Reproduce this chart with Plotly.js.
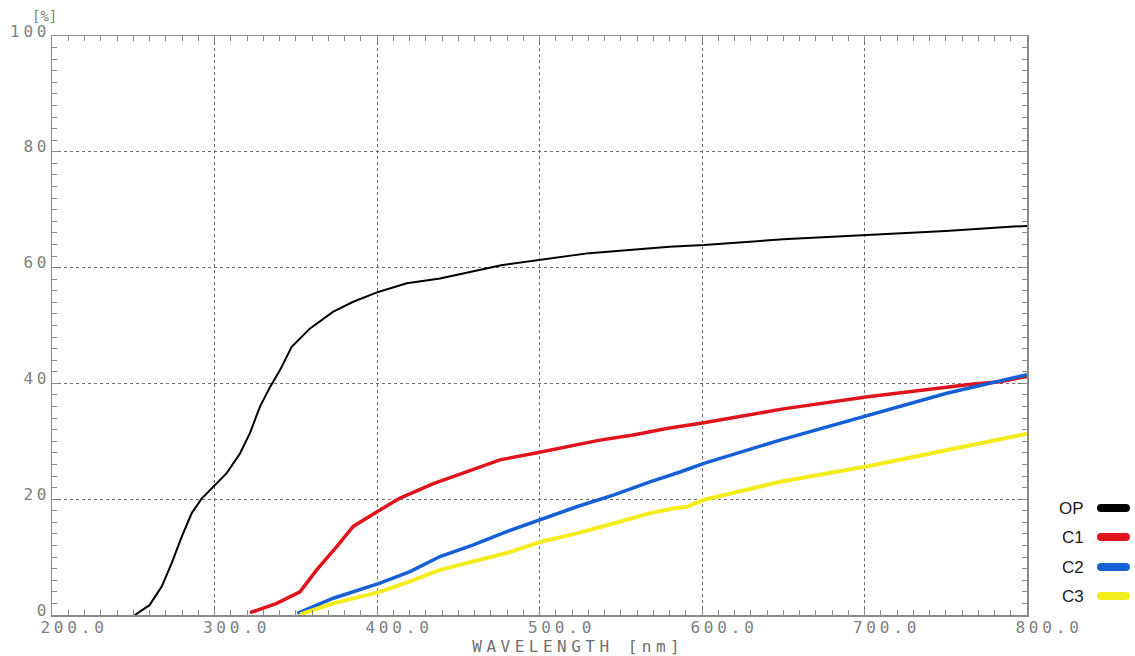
<!DOCTYPE html>
<html>
<head>
<meta charset="utf-8">
<script src="https://cdn.plot.ly/plotly-3.0.1.min.js"></script>
<style>
html,body{margin:0;padding:0;background:#fff;}
#chart{width:1135px;height:656px;}
#chart .xtick text {letter-spacing:3.8px;}
#chart .ytick text {letter-spacing:3.8px;}
#chart g.annotation[data-index="1"] text {letter-spacing:4.5px;}
</style>
</head>
<body>
<div id="chart"></div>
<script>
// Wavelength [nm] and transmittance [%]
const opX = [251, 260, 267.5, 273.6, 279.8, 286, 292.1, 300.9, 307.5, 315.7, 321.8, 328, 334.2, 340.3, 347.5, 358.8, 373.1, 385.4, 400.8, 418.3, 438.8, 476.4, 501.1, 530.6, 580, 601.2, 650, 700.7, 750, 792, 800];
const opY = [0, 1.7, 4.9, 8.9, 13.5, 17.6, 20.1, 22.7, 24.5, 27.9, 31.4, 36.0, 39.4, 42.3, 46.3, 49.5, 52.4, 54.1, 55.8, 57.3, 58.1, 60.4, 61.3, 62.5, 63.6, 63.9, 64.9, 65.6, 66.3, 67.1, 67.2];

const c1X = [321.8, 338.3, 352.6, 362.9, 375.2, 385.4, 399.8, 414.2, 434.7, 455.2, 475.7, 496.2, 516.7, 537.2, 557.7, 578.3, 601.2, 650, 702, 750, 767, 783.4, 800];
const c1Y = [0.4, 2.0, 4.0, 7.8, 11.8, 15.3, 17.8, 20.2, 22.7, 24.7, 26.8, 27.9, 29.1, 30.2, 31.1, 32.2, 33.2, 35.6, 37.7, 39.4, 39.9, 40.3, 41.2];

const c2X = [351, 373.1, 401.8, 420.3, 438.8, 459.3, 479.8, 502.4, 522.9, 545.4, 568, 586.5, 601.2, 648, 702, 750.6, 800];
const c2Y = [0.3, 2.9, 5.5, 7.5, 10.1, 12.1, 14.4, 16.7, 18.7, 20.7, 23.0, 24.7, 26.2, 30.2, 34.4, 38.3, 41.5];

const c3X = [352.6, 373.1, 401.8, 420.3, 438.8, 459.3, 479.8, 501.7, 522.9, 545.4, 568, 582.3, 590.6, 601.2, 648, 702, 750.6, 800];
const c3Y = [0.1, 2.0, 4.0, 5.8, 7.8, 9.2, 10.7, 12.7, 14.1, 15.8, 17.6, 18.4, 18.7, 19.9, 23.0, 25.7, 28.5, 31.3];

const seriesNames = ['OP', 'C1', 'C2', 'C3'];
const seriesColors = ['#000000', '#e0141c', '#1560d4', '#f4ec1c'];
const seriesWidths = [2, 3.5, 3.5, 4];
const xs = [opX, c1X, c2X, c3X];
const ys = [opY, c1Y, c2Y, c3Y];

const xTickVals = [200, 300, 400, 500, 600, 700, 800];
const yTickVals = [0, 20, 40, 60, 80, 100];

const traces = seriesNames.map((n, i) => ({
  type: 'scatter', mode: 'lines', name: n,
  x: xs[i], y: ys[i],
  line: {color: seriesColors[i], width: seriesWidths[i]},
  showlegend: false
}));

const monoFont = 'DejaVu Sans Mono, Liberation Mono, monospace';
const tickGray = '#8a8a8a';

const axisCommon = {
  showline: true, linecolor: tickGray, linewidth: 1.5, mirror: 'ticks',
  ticks: 'inside', ticklen: 6, tickcolor: tickGray, tickwidth: 1,
  showgrid: true, gridcolor: '#6e6e6e', gridwidth: 1, griddash: 'dot',
  zeroline: false,
  tickfont: {family: monoFont, size: 16, color: '#808080'}
};

const layout = {
  width: 1135, height: 656,
  margin: {l: 52, r: 108, t: 36, b: 41},
  paper_bgcolor: '#ffffff', plot_bgcolor: '#ffffff',
  xaxis: Object.assign({}, axisCommon, {
    range: [200, 800], tickvals: xTickVals, ticktext: xTickVals.map(v => v.toFixed(1)),
    ticklabelshift: 22, ticklabelstandoff: -3,
    minor: {dtick: 10, ticks: 'inside', ticklen: 5, tickcolor: tickGray, showgrid: false}
  }),
  yaxis: Object.assign({}, axisCommon, {
    range: [0, 100], tickvals: yTickVals, ticktext: yTickVals.map(v => String(v)),
    ticklabelstandoff: -3, ticklabelshift: -5,
    minor: {dtick: 2, ticks: 'inside', ticklen: 5, tickcolor: tickGray, showgrid: false}
  }),
  // mirrored frame axes carrying the inside ticks on top and right
  xaxis2: {
    overlaying: 'x', anchor: 'y', side: 'top', range: [200, 800], showticklabels: false,
    showline: false, showgrid: false, zeroline: false,
    tickvals: xTickVals, ticks: 'inside', ticklen: 6, tickcolor: tickGray,
    minor: {dtick: 10, ticks: 'inside', ticklen: 5, tickcolor: tickGray, showgrid: false}
  },
  yaxis2: {
    overlaying: 'y', anchor: 'x', side: 'right', range: [0, 100], showticklabels: false,
    showline: false, showgrid: false, zeroline: false,
    tickvals: yTickVals, ticks: 'inside', ticklen: 6, tickcolor: tickGray,
    minor: {dtick: 2, ticks: 'inside', ticklen: 5, tickcolor: tickGray, showgrid: false}
  },
  annotations: [],
  shapes: []
};

layout.annotations.push({
  xref: 'paper', yref: 'paper', x: -0.008, y: 1.034, xanchor: 'center', yanchor: 'middle',
  text: '[%]', showarrow: false,
  font: {family: monoFont, size: 14, color: '#808080'}
});
layout.annotations.push({
  xref: 'paper', yref: 'paper', x: 0.54, y: -0.054, xanchor: 'center', yanchor: 'middle',
  text: 'WAVELENGTH [nm]', showarrow: false,
  font: {family: monoFont, size: 16, color: '#707070'}
});

// custom legend (label left of a rounded bar)
const legY = [0.1848, 0.1347, 0.0829, 0.0328];
const bx1 = 1.0759, bx2 = 1.1015, rx = 0.0041, ry = 0.0069;
seriesNames.forEach((n, i) => {
  const y = legY[i];
  layout.annotations.push({
    xref: 'paper', yref: 'paper', x: 1.0605, y: y, xanchor: 'right', yanchor: 'middle',
    text: n, showarrow: false,
    font: {family: 'Liberation Sans, Arial, sans-serif', size: 17, color: '#1a1a1a'}
  });
  const p = `M ${bx1},${y + ry} L ${bx2},${y + ry} Q ${bx2 + rx},${y + ry} ${bx2 + rx},${y} Q ${bx2 + rx},${y - ry} ${bx2},${y - ry} L ${bx1},${y - ry} Q ${bx1 - rx},${y - ry} ${bx1 - rx},${y} Q ${bx1 - rx},${y + ry} ${bx1},${y + ry} Z`;
  layout.shapes.push({type: 'path', xref: 'paper', yref: 'paper', path: p,
    fillcolor: seriesColors[i], line: {width: 0}});
});

Plotly.newPlot('chart', traces, layout, {staticPlot: true, displayModeBar: false});
</script>
</body>
</html>
